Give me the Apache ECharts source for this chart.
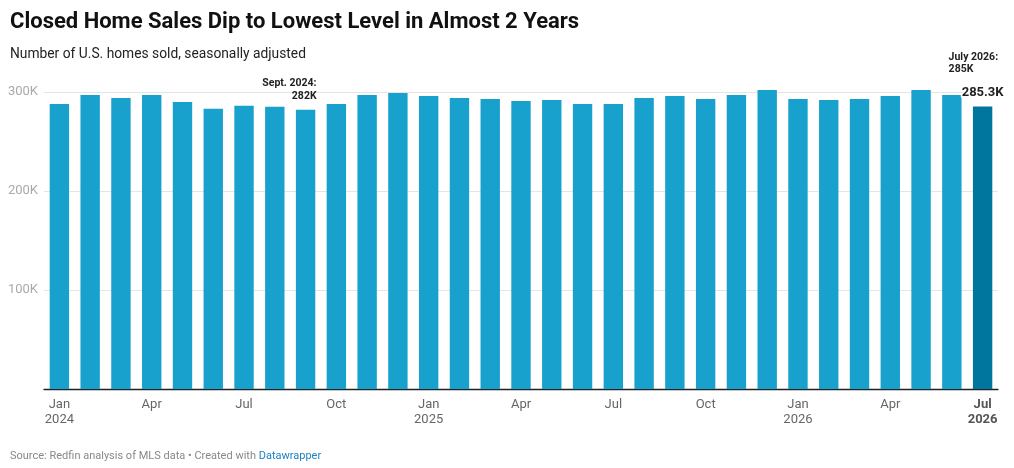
<html>
    <head>
        <meta charset="utf-8">
        <script src="https://cdn.jsdelivr.net/npm/echarts@6/dist/echarts.min.js"></script>
        <style>
            html, body { margin: 0; padding: 0; background: #fff; }
            #main { width: 1014px; height: 468px; }
        </style>
    </head>
    <body>
        <div id="main"></div>
        <script>

        var myChart = echarts.init(document.getElementById('main'));

        var months = [
            'Jan 2024', 'Feb 2024', 'Mar 2024', 'Apr 2024', 'May 2024', 'Jun 2024',
            'Jul 2024', 'Aug 2024', 'Sep 2024', 'Oct 2024', 'Nov 2024', 'Dec 2024',
            'Jan 2025', 'Feb 2025', 'Mar 2025', 'Apr 2025', 'May 2025', 'Jun 2025',
            'Jul 2025', 'Aug 2025', 'Sep 2025', 'Oct 2025', 'Nov 2025', 'Dec 2025',
            'Jan 2026', 'Feb 2026', 'Mar 2026', 'Apr 2026', 'May 2026', 'Jun 2026',
            'Jul 2026'
        ];

        // homes sold, seasonally adjusted
        var sales = [
            288000, 297000, 294000, 297000, 290000, 283000,
            286000, 285000, 282000, 288000, 297000, 299000,
            296000, 294000, 293000, 291000, 292000, 288000,
            288000, 294000, 296000, 293000, 297000, 302000,
            293000, 292000, 293000, 296000, 302000, 297000,
            285300
        ];

        var yTicks = [0, 100000, 200000, 300000];

        var shortMonth = { Jan: 'Jan', Apr: 'Apr', Jul: 'Jul', Oct: 'Oct' };
        var lastIndex = months.length - 1;

        var barData = sales.map(function (v, i) {
            if (i === lastIndex) {
                return {
                    value: v,
                    itemStyle: { color: '#00769f' },
                    label: {
                        show: true,
                        position: 'top',
                        distance: 7,
                        formatter: function (p) { return (p.value / 1000).toFixed(1) + 'K'; },
                        fontFamily: 'Roboto',
                        fontWeight: 'bold',
                        fontSize: 13,
                        color: '#222',
                        textBorderColor: '#fff',
                        textBorderWidth: 3
                    }
                };
            }
            return v;
        });

        var option = {
            animation: false,
            backgroundColor: '#fff',
            textStyle: { fontFamily: 'Roboto' },
            title: [
                {
                    text: 'Closed Home Sales Dip to Lowest Level in Almost 2 Years',
                    left: 5,
                    top: 6,
                    textStyle: {
                        fontFamily: 'Roboto',
                        fontWeight: 'bold',
                        fontSize: 22,
                        color: '#111'
                    }
                },
                {
                    text: 'Number of U.S. homes sold, seasonally adjusted',
                    left: 5,
                    top: 43,
                    textStyle: {
                        fontFamily: 'Roboto',
                        fontWeight: 'normal',
                        fontSize: 13.8,
                        color: '#222'
                    }
                },
                {
                    text: '{s|Source: Redfin analysis of MLS data • Created with }{d|Datawrapper}',
                    left: 5,
                    top: 446,
                    textStyle: {
                        fontWeight: 'normal',
                        rich: {
                            s: { fontFamily: 'Roboto', fontWeight: 'normal', fontSize: 11, color: '#888' },
                            d: { fontFamily: 'Roboto', fontWeight: 'normal', fontSize: 11, color: '#1d81c2' }
                        }
                    }
                }
            ],
            grid: {
                left: 44,
                right: 16,
                top: 92,
                bottom: 79,
                containLabel: false
            },
            xAxis: {
                type: 'category',
                data: months,
                axisLine: { lineStyle: { color: '#222', width: 1.3 } },
                axisTick: { show: false },
                axisLabel: {
                    interval: 0,
                    margin: 8,
                    lineHeight: 15,
                    fontSize: 13,
                    color: '#666',
                    formatter: function (value, index) {
                        var parts = value.split(' ');
                        if (!shortMonth[parts[0]]) {
                            return '';
                        }
                        if (index === lastIndex) {
                            return '{b|' + parts[0] + '}\n{b|' + parts[1] + '}';
                        }
                        if (parts[0] === 'Jan') {
                            return parts[0] + '\n' + parts[1];
                        }
                        return parts[0];
                    },
                    rich: {
                        b: { fontWeight: 'bold', fontSize: 13, color: '#555', lineHeight: 15 }
                    }
                }
            },
            yAxis: {
                type: 'value',
                min: yTicks[0],
                max: yTicks[yTicks.length - 1],
                interval: 100000,
                axisLine: { show: false },
                axisTick: { show: false },
                splitLine: { lineStyle: { color: '#e5e5e5', width: 1 } },
                axisLabel: {
                    margin: 6,
                    fontSize: 13,
                    color: '#aaa',
                    formatter: function (v) { return v === 0 ? '' : (v / 1000) + 'K'; }
                }
            },
            series: [
                {
                    type: 'bar',
                    data: barData,
                    barCategoryGap: '37%',
                    clip: false,
                    itemStyle: { color: '#18a1cd' },
                    markPoint: {
                        symbol: 'rect',
                        symbolSize: 0,
                        silent: true,
                        label: {
                            fontFamily: 'Roboto',
                            fontWeight: 'bold',
                            fontSize: 10.5,
                            lineHeight: 12.5,
                            color: '#222'
                        },
                        data: [
                            {
                                coord: [months[8], sales[8]],
                                label: {
                                    show: true,
                                    position: 'inside',
                                    align: 'right',
                                    verticalAlign: 'middle',
                                    offset: [11, -20],
                                    formatter: 'Sept. 2024:\n282K'
                                }
                            },
                            {
                                coord: [months[lastIndex], sales[lastIndex]],
                                label: {
                                    show: true,
                                    position: 'inside',
                                    align: 'left',
                                    verticalAlign: 'middle',
                                    offset: [-34, -43],
                                    formatter: 'July 2026:\n285K'
                                }
                            }
                        ]
                    }
                }
            ]
        };

        myChart.setOption(option);

        </script>
    </body>
</html>
